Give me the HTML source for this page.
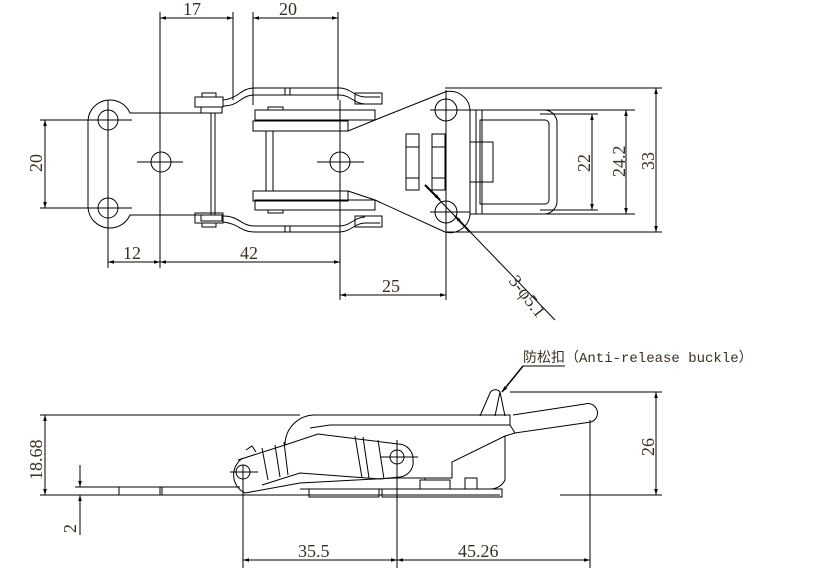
<!DOCTYPE html>
<html><head><meta charset="utf-8"><style>
html,body{margin:0;padding:0;background:#fff;width:830px;height:585px;overflow:hidden}
svg{display:block}
text{font-family:"Liberation Serif","Noto Serif CJK SC",serif;font-size:18px;fill:#3a3020}
</style></head><body>
<svg width="830" height="585" viewBox="0 0 830 585" xmlns="http://www.w3.org/2000/svg">
<defs>
<marker id="a" viewBox="0 0 10 10" refX="10" refY="5" markerWidth="10" markerHeight="6" orient="auto-start-reverse" markerUnits="userSpaceOnUse"><path d="M0,2 L10,5 L0,8 z" fill="#000"/></marker>
</defs>
<g stroke="#000" stroke-width="1" fill="none">
<line x1="160" y1="12" x2="160" y2="268"/>
<line x1="233" y1="12" x2="233" y2="100"/>
<line x1="253" y1="12" x2="253" y2="105"/>
<line x1="338" y1="12" x2="338" y2="100"/>
<line x1="160" y1="18" x2="233" y2="18" marker-start="url(#a)" marker-end="url(#a)"/>
<line x1="253" y1="18" x2="338" y2="18" marker-start="url(#a)" marker-end="url(#a)"/>
<line x1="40" y1="120" x2="130" y2="120"/>
<line x1="40" y1="208" x2="130" y2="208"/>
<line x1="45" y1="120" x2="45" y2="208" marker-start="url(#a)" marker-end="url(#a)"/>
<line x1="108" y1="100" x2="108" y2="268"/>
<line x1="340" y1="100" x2="340" y2="300"/>
<line x1="446" y1="90" x2="446" y2="300"/>
<line x1="108" y1="262" x2="160" y2="262" marker-start="url(#a)" marker-end="url(#a)"/>
<line x1="160" y1="262" x2="340" y2="262" marker-start="url(#a)" marker-end="url(#a)"/>
<line x1="340" y1="295" x2="446" y2="295" marker-start="url(#a)" marker-end="url(#a)"/>
<line x1="445" y1="88" x2="662" y2="88"/>
<line x1="445" y1="232" x2="662" y2="232"/>
<line x1="470" y1="110" x2="635" y2="110"/>
<line x1="470" y1="214" x2="635" y2="214"/>
<line x1="540" y1="114" x2="598" y2="114"/>
<line x1="540" y1="210" x2="598" y2="210"/>
<line x1="592" y1="114" x2="592" y2="210" marker-start="url(#a)" marker-end="url(#a)"/>
<line x1="626" y1="110" x2="626" y2="214" marker-start="url(#a)" marker-end="url(#a)"/>
<line x1="656" y1="88" x2="656" y2="232" marker-start="url(#a)" marker-end="url(#a)"/>
<line x1="425" y1="185" x2="555" y2="320"/>
<line x1="425" y1="185" x2="440" y2="200" stroke-width="2" marker-end="url(#a)"/>
<line x1="470" y1="232" x2="455" y2="216" stroke-width="2" marker-end="url(#a)"/>
<path d="M130,113 L215,113 L215,215 L130,215 A22,22 0 0 1 88,208 L88,120 A22,22 0 0 1 130,113 Z"/>
<circle cx="108" cy="120" r="10"/><circle cx="108" cy="208" r="10"/>
<circle cx="161" cy="162" r="10"/>
<line x1="88" y1="120" x2="132" y2="120"/><line x1="88" y1="208" x2="132" y2="208"/>
<line x1="137" y1="162" x2="183" y2="162"/>
<line x1="211" y1="113" x2="211" y2="215"/>
<rect x="195" y="97" width="28" height="10"/><rect x="202" y="93" width="14" height="4"/>
<rect x="195" y="213" width="28" height="10"/><rect x="202" y="223" width="14" height="4"/>
<rect x="201" y="107" width="21" height="6"/><rect x="201" y="215" width="21" height="6"/>
<path d="M223,100 C240,98 240,88 255,88 L340,88 C350,88 355,97 365,97 L380,97"/>
<path d="M223,106 C240,106 240,95 255,95 L340,95 C350,95 355,104 365,104"/>
<path d="M223,222 C240,224 240,232 255,232 L340,232 C350,232 355,223 365,223 L380,223"/>
<path d="M223,216 C240,216 240,226 255,226 L340,226 C350,226 355,217 365,217"/>
<rect x="355" y="93" width="27" height="11"/><rect x="355" y="216" width="27" height="11"/>
<line x1="285" y1="88" x2="285" y2="95"/><line x1="290" y1="88" x2="290" y2="95"/>
<line x1="285" y1="226" x2="285" y2="232"/><line x1="290" y1="226" x2="290" y2="232"/>
<rect x="255" y="110" width="120" height="10"/><rect x="255" y="200" width="120" height="10"/>
<rect x="253" y="121" width="95" height="10"/><rect x="253" y="191" width="95" height="10"/>
<rect x="268" y="107" width="15" height="3"/><rect x="268" y="210" width="15" height="3"/>
<line x1="266" y1="131" x2="266" y2="191"/><line x1="273" y1="131" x2="273" y2="191"/>
<circle cx="340" cy="162" r="10"/>
<line x1="317" y1="162" x2="364" y2="162"/>
<path d="M348,131 L375,120 L445,92 A20,20 0 0 1 470,110 L470,214 A20,20 0 0 1 445,232 L375,200 L348,191"/>
<circle cx="446" cy="110" r="11"/><circle cx="446" cy="212" r="11"/>
<line x1="430" y1="110" x2="470" y2="110"/><line x1="430" y1="212" x2="470" y2="212"/>
<rect x="406" y="134" width="13" height="56"/><rect x="432" y="134" width="13" height="56"/>
<line x1="406" y1="147" x2="419" y2="147"/><line x1="406" y1="178" x2="419" y2="178"/>
<line x1="432" y1="147" x2="445" y2="147"/><line x1="432" y1="178" x2="445" y2="178"/>
<path d="M470,110 L545,110 A13,13 0 0 1 557,122 L557,202 A13,13 0 0 1 545,214 L470,214"/>
<path d="M480,120 L545,120 A4,4 0 0 1 549,124 L549,200 A4,4 0 0 1 545,204 L480,204 Z"/>
<line x1="476" y1="110" x2="476" y2="214"/><line x1="482" y1="110" x2="482" y2="214"/>
<rect x="470" y="142" width="23" height="40"/>
<line x1="40" y1="415" x2="300" y2="415"/>
<line x1="40" y1="495" x2="500" y2="495"/>
<line x1="45" y1="415" x2="45" y2="495" marker-start="url(#a)" marker-end="url(#a)"/>
<line x1="75" y1="487" x2="240" y2="487"/>
<line x1="80" y1="465" x2="80" y2="487" marker-end="url(#a)"/>
<line x1="80" y1="535" x2="80" y2="495" marker-end="url(#a)"/>
<line x1="119" y1="487" x2="119" y2="495"/><line x1="160" y1="487" x2="160" y2="495"/><line x1="162" y1="487" x2="162" y2="495"/>
<line x1="510" y1="392" x2="662" y2="392"/>
<line x1="560" y1="495" x2="662" y2="495"/>
<line x1="590" y1="420" x2="590" y2="568"/>
<line x1="656" y1="392" x2="656" y2="495" marker-start="url(#a)" marker-end="url(#a)"/>
<line x1="243" y1="465" x2="243" y2="568"/>
<line x1="397" y1="440" x2="397" y2="568"/>
<line x1="243" y1="560" x2="397" y2="560" marker-start="url(#a)" marker-end="url(#a)"/>
<line x1="397" y1="560" x2="590" y2="560" marker-start="url(#a)" marker-end="url(#a)"/>
<line x1="523" y1="366" x2="565" y2="366"/>
<line x1="523" y1="366" x2="502" y2="392" marker-end="url(#a)" stroke-width="1.5"/>
<path d="M285,445 A30,30 0 0 1 315,415 L510,415 L510,425 L330,425 L310,428"/>
<path d="M513,415 L585,404 A8,8 0 0 1 591,422 L515,433 L510,425"/>
<path d="M515,433 L505,436 L452,462 L452,478 L425,478 L425,480"/>
<path d="M505,436 L505,480 A16,16 0 0 1 490,489 L300,489"/>
<path d="M480,416 L490,393 A6,6 0 0 1 500,392 L495,416"/>
<path d="M500,392 L505,416"/>
<path d="M243,458 A20,20 0 0 0 245,493 L300,483 L395,478 L430,478"/>
<path d="M238,460 L288,444 L318,434 L398,444 A15,15 0 0 1 413,460 A15,15 0 0 1 400,477 L380,479 L300,473 L262,485"/>
<line x1="262" y1="448" x2="268" y2="480"/><line x1="275" y1="445" x2="280" y2="477"/><line x1="284" y1="442" x2="288" y2="475"/>
<line x1="355" y1="436" x2="362" y2="478"/><line x1="363" y1="437" x2="369" y2="478"/><line x1="378" y1="440" x2="384" y2="479"/>
<circle cx="243" cy="472" r="7"/><circle cx="397" cy="457" r="7"/>
<line x1="230" y1="472" x2="258" y2="472"/><line x1="380" y1="457" x2="418" y2="457"/>
<rect x="309" y="489" width="70" height="8"/><rect x="382" y="489" width="120" height="8"/>
<rect x="420" y="480" width="30" height="9"/><rect x="465" y="478" width="12" height="11"/>
<path d="M246,450 L252,446 L256,452"/>
</g>
<g>
<text x="183" y="15">17</text>
<text x="279" y="15">20</text>
<text x="123" y="259">12</text>
<text x="240" y="259">42</text>
<text x="382" y="292">25</text>
<text transform="translate(42,172) rotate(-90)">20</text>
<text transform="translate(590,172) rotate(-90)">22</text>
<text transform="translate(625,177) rotate(-90)">24.2</text>
<text transform="translate(654,170) rotate(-90)">33</text>
<text transform="translate(508,281) rotate(52)">3-φ5.1</text>
<text transform="translate(42,480) rotate(-90)">18.68</text>
<text transform="translate(76,533) rotate(-90)">2</text>
<text transform="translate(654,456) rotate(-90)">26</text>
<text x="298" y="557">35.5</text>
<text x="458" y="557">45.26</text>
<text x="523" y="362" style="font-size:14px;font-family:'Liberation Mono','Noto Sans CJK SC',monospace">防松扣（Anti-release buckle）</text>
</g>
</svg>
</body></html>
